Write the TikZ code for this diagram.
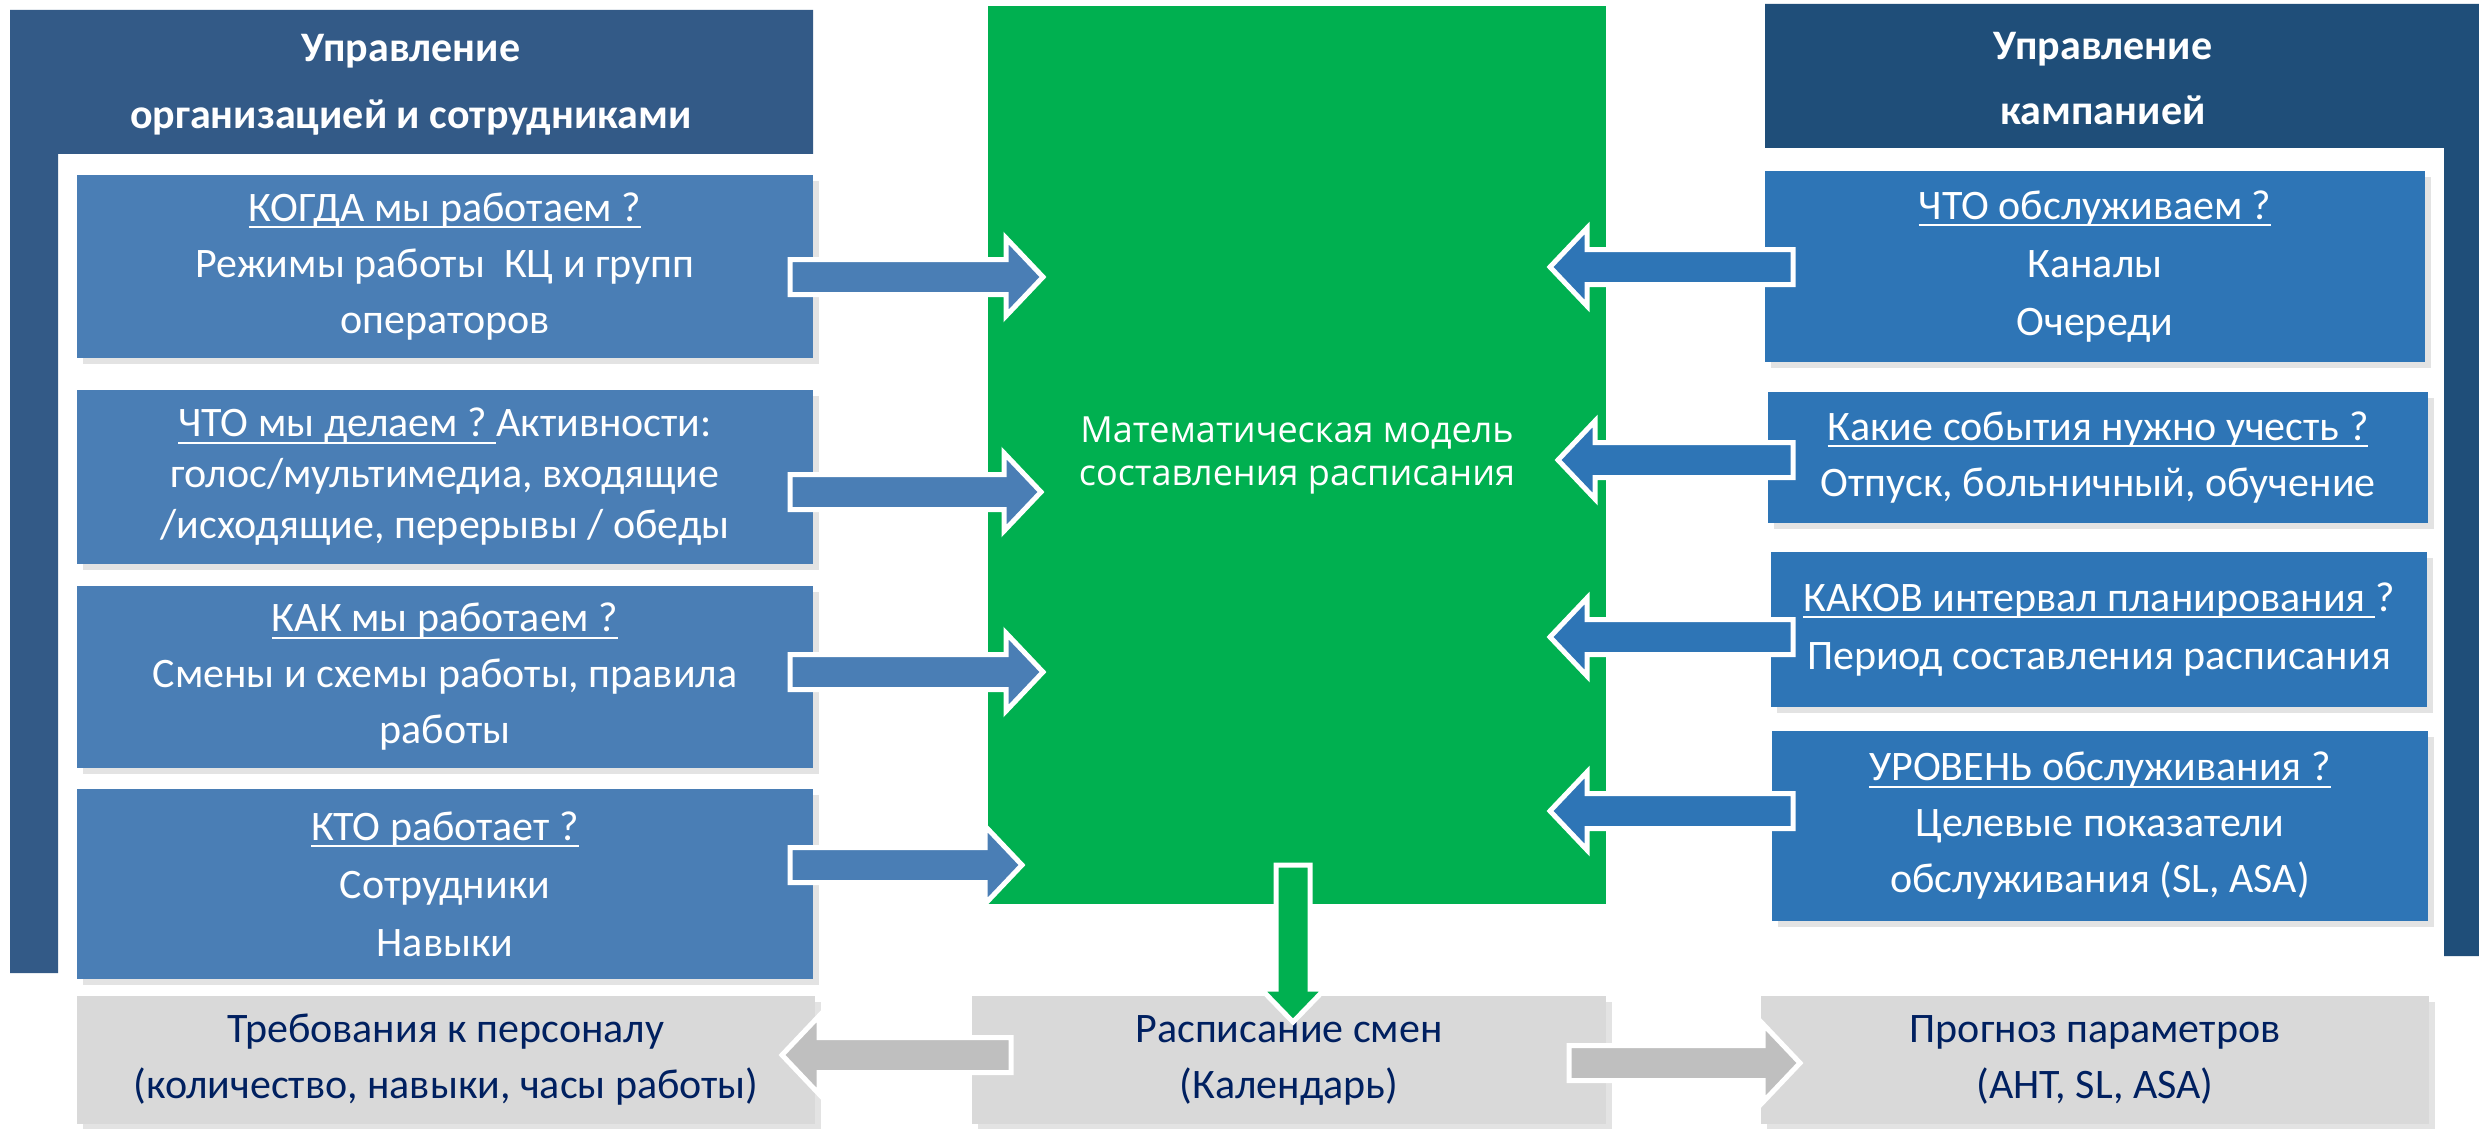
\documentclass[tikz,border=0pt]{standalone}
\usepackage{fontspec}
\setmainfont{Carlito}
\newfontfamily\greenfont{Open Sans}
\usetikzlibrary{calc,shadows}
\definecolor{hdrL}{HTML}{335A87}
\definecolor{hdrR}{HTML}{1F4E79}
\definecolor{boxL}{HTML}{4A7EB5}
\definecolor{boxR}{HTML}{2E75B6}
\definecolor{grn}{HTML}{00B050}
\definecolor{gbox}{HTML}{D9D9D9}
\definecolor{garr}{HTML}{BFBFBF}
\definecolor{navy}{HTML}{002060}
\definecolor{shd}{HTML}{E3E3E3}
\newcommand\ulx[1]{\setbox0\hbox{#1}\rlap{\rule[-7pt]{\wd0}{2.2pt}}\box0}
\newcommand\harrow[3]{%
  \path[#3] let \p1=(#1), \p2=(#2), \n1={ifthenelse(\x2>\x1,1,-1)} in
    (\x1,\y1+17.5pt) -- (\x2-\n1*37pt,\y1+17.5pt) -- (\x2-\n1*37pt,\y1+39pt) -- (\x2,\y1)
    -- (\x2-\n1*37pt,\y1-39pt) -- (\x2-\n1*37pt,\y1-17.5pt) -- (\x1,\y1-17.5pt) -- cycle;}
\newcommand\varrow[3]{%
  \path[#3] let \p1=(#1), \p2=(#2) in
    (\x1-17pt,\y1) -- (\x1-17pt,\y2+33pt) -- (\x1-32pt,\y2+33pt) -- (\x1,\y2)
    -- (\x1+32pt,\y2+33pt) -- (\x1+17pt,\y2+33pt) -- (\x1+17pt,\y1) -- cycle;}
\tikzset{
  panel/.style={inner sep=0pt, outer sep=0pt, align=center,
    font=\fontsize{42}{56}\selectfont},
  shadowed/.style={general shadow={fill=shd, shadow xshift=6pt, shadow yshift=-6pt}},
  lbox/.style={panel, shadowed, fill=boxL, text=white},
  rbox/.style={panel, shadowed, fill=boxR, text=white},
  gbx/.style={panel, shadowed, fill=gbox, text=navy},
  hdrtext/.style={inner sep=0pt, align=center, text=white,
    font=\fontsize{42}{67}\selectfont\bfseries},
  blk/.style={draw=white, line width=5pt, line join=miter},
  arrL/.style={blk, fill=boxL},
  arrR/.style={blk, fill=boxR},
  arrG/.style={blk, fill=grn},
  arrY/.style={blk, fill=garr},
}
\begin{document}
\begin{tikzpicture}[x=1pt,y=-1pt]
\useasboundingbox (0,0) rectangle (2479,1129);
\fill[white] (0,0) rectangle (2479,1129);
% panels
\fill[hdrL] (10,10) -- (813,10) -- (813,154) -- (58,154) -- (58,973) -- (10,973) -- cycle;
\fill[hdrR] (1765,4) -- (2479,4) -- (2479,956) -- (2444,956) -- (2444,148) -- (1765,148) -- cycle;
\node[hdrtext] (hL) at (411,85) {Управление\\организацией и сотрудниками};
\node[hdrtext, font=\fontsize{42}{65}\selectfont\bfseries] (hR) at (2103,79) {Управление\\кампанией};
% green
\node[panel, fill=grn, text=white, minimum width=618pt, minimum height=898pt,
  font=\fontsize{36}{43}\selectfont\greenfont] (model) at (1297,455)
  {Математическая модель\\составления расписания};
% left boxes
\node[lbox, minimum width=736pt, minimum height=183pt] (l1) at (445,266.5)
  {\ulx{КОГДА мы работаем ?}\\Режимы работы\ \ КЦ и групп\\операторов};
\node[lbox, minimum width=736pt, minimum height=174pt, font=\fontsize{42}{51}\selectfont] (l2) at (445,477)
  {\ulx{ЧТО мы делаем ?\ }Активности:\\голос/мультимедиа, входящие\\/исходящие, перерывы / обеды};
\node[lbox, minimum width=736pt, minimum height=182pt] (l3) at (445,677)
  {\ulx{КАК мы работаем ?}\\Смены и схемы работы, правила\\работы};
\node[lbox, minimum width=736pt, minimum height=190pt, font=\fontsize{42}{58}\selectfont] (l4) at (445,884)
  {\ulx{КТО работает ?}\\Сотрудники\\Навыки};
% right boxes
\node[rbox, minimum width=660pt, minimum height=191pt, font=\fontsize{42}{58}\selectfont] (r1) at (2095,266.5)
  {\ulx{ЧТО обслуживаем ?}\\Каналы\\Очереди};
\node[rbox, minimum width=660pt, minimum height=131pt] (r2) at (2098,457.5)
  {\ulx{Какие события нужно учесть ?}\\Отпуск, больничный, обучение};
\node[rbox, minimum width=656pt, minimum height=155pt, font=\fontsize{42}{58}\selectfont] (r3) at (2099,629.5)
  {\ulx{КАКОВ интервал планирования\ }?\\Период составления расписания};
\node[rbox, minimum width=656pt, minimum height=190pt] (r4) at (2100,826)
  {\ulx{УРОВЕНЬ обслуживания ?}\\Целевые показатели\\обслуживания (SL, ASA)};
% bottom boxes
\node[gbx, minimum width=738pt, minimum height=128pt] (gL) at (446,1060)
  {Требования к персоналу\\(количество, навыки, часы работы)};
\node[gbx, minimum width=634pt, minimum height=128pt] (gM) at (1289,1060)
  {Расписание смен\\(Календарь)};
\node[gbx, minimum width=668pt, minimum height=128pt] (gR) at (2095,1060)
  {Прогноз параметров\\(AHT, SL, ASA)};
% arrow end points
\coordinate (a1s) at (790,277);  \coordinate (a1t) at (1043,277);
\coordinate (a2s) at (790,492);  \coordinate (a2t) at (1041,492);
\coordinate (a3s) at (790,672);  \coordinate (a3t) at (1043,672);
\coordinate (a4s) at (790,865);  \coordinate (a4t) at (1022,865);
\coordinate (b1s) at (1793,267); \coordinate (b1t) at (1550,267);
\coordinate (b2s) at (1793,460); \coordinate (b2t) at (1558,460);
\coordinate (b3s) at (1793,637); \coordinate (b3t) at (1550,637);
\coordinate (b4s) at (1793,811); \coordinate (b4t) at (1550,811);
\coordinate (c1s) at (1011,1055); \coordinate (c1t) at (782,1055);
\coordinate (c2s) at (1569,1063); \coordinate (c2t) at (1800,1063);
\coordinate (d1s) at (1293,865); \coordinate (d1t) at (1293,1022);
\harrow{a1s}{a1t}{arrL}
\harrow{a2s}{a2t}{arrL}
\harrow{a3s}{a3t}{arrL}
\harrow{a4s}{a4t}{arrL}
\harrow{b1s}{b1t}{arrR}
\harrow{b2s}{b2t}{arrR}
\harrow{b3s}{b3t}{arrR}
\harrow{b4s}{b4t}{arrR}
\harrow{c1s}{c1t}{arrY}
\harrow{c2s}{c2t}{arrY}
\varrow{d1s}{d1t}{arrG}
\end{tikzpicture}
\end{document}
